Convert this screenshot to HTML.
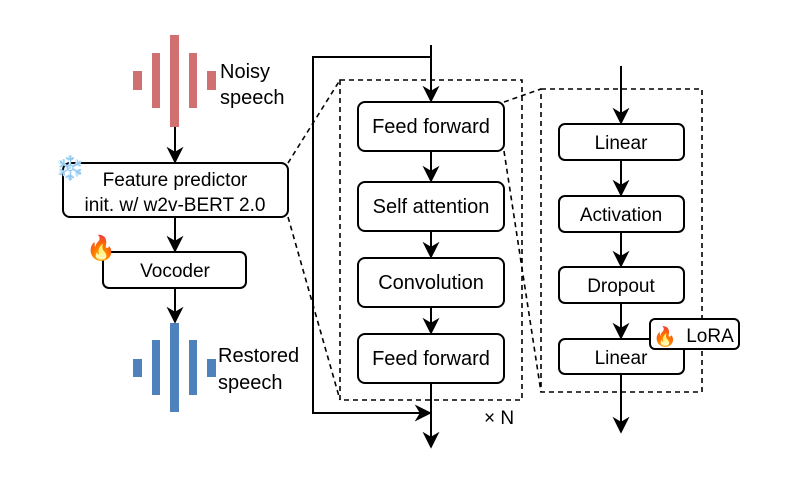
<!DOCTYPE html>
<html><head><meta charset="utf-8"><style>
body{margin:0;background:#fff}
svg text{font-family:"Liberation Sans",sans-serif;fill:#000}
</style></head><body>
<svg width="797" height="493" viewBox="0 0 797 493" xmlns="http://www.w3.org/2000/svg">
<defs><marker id="b" viewBox="0 0 10 10" refX="9" refY="5" markerWidth="17" markerHeight="17" orient="auto" markerUnits="userSpaceOnUse"><path d="M0,0 L10,5 L0,10 L3,5 z" fill="#000"/></marker></defs>
<g fill="#d07070">
<rect x="133" y="71" width="9" height="19"/><rect x="152" y="53" width="8" height="55"/><rect x="170" y="35" width="9" height="92"/><rect x="189" y="53" width="8" height="55"/><rect x="207" y="71" width="9" height="19"/></g>
<g fill="#4f81bd">
<rect x="133" y="359" width="9" height="18"/><rect x="152" y="340" width="8" height="55"/><rect x="170" y="323" width="9" height="89"/><rect x="189" y="340" width="8" height="55"/><rect x="207" y="359" width="9" height="18"/></g>
<g font-size="20"><text x="220" y="78">Noisy</text><text x="220" y="104">speech</text>
<text x="218" y="362">Restored</text><text x="218" y="389">speech</text></g>
<g stroke="#000" stroke-width="2" fill="none" marker-end="url(#b)">
<line x1="175" y1="127" x2="175" y2="162"/><line x1="175" y1="217" x2="175" y2="251"/><line x1="175" y1="288" x2="175" y2="322"/>
<line x1="431" y1="45" x2="431" y2="101"/><line x1="431" y1="151" x2="431" y2="181"/><line x1="431" y1="231" x2="431" y2="257"/><line x1="431" y1="307" x2="431" y2="333"/><line x1="431" y1="383" x2="431" y2="447"/>
<polyline points="431,57 313,57 313,413 430,413"/>
<line x1="621" y1="66" x2="621" y2="123"/><line x1="621" y1="160" x2="621" y2="195"/><line x1="621" y1="232" x2="621" y2="266"/><line x1="621" y1="303" x2="621" y2="338"/><line x1="621" y1="374" x2="621" y2="432"/>
</g>
<g stroke="#000" stroke-width="1.6" fill="none" stroke-dasharray="5,4">
<rect x="340" y="80" width="182" height="320"/><rect x="541" y="89" width="161" height="303"/>
<line x1="288" y1="163" x2="340" y2="80"/><line x1="288" y1="217" x2="340" y2="400"/>
<line x1="504" y1="102" x2="541" y2="89"/><line x1="504" y1="151" x2="541" y2="392"/>
</g>
<g stroke="#000" stroke-width="2" fill="#fff">
<rect x="63" y="163" width="225" height="54" rx="7"/><rect x="103" y="252" width="143" height="36" rx="6"/>
<rect x="358" y="102" width="146" height="49" rx="7"/><rect x="358" y="182" width="146" height="49" rx="7"/><rect x="358" y="258" width="146" height="49" rx="7"/><rect x="358" y="334" width="146" height="49" rx="7"/>
<rect x="559" y="124" width="125" height="36" rx="6"/><rect x="559" y="196" width="125" height="36" rx="6"/><rect x="559" y="267" width="125" height="36" rx="6"/><rect x="559" y="339" width="125" height="35" rx="6"/>
<rect x="650" y="319" width="89" height="30" rx="5"/>
</g>
<g font-size="19" text-anchor="middle">
<text x="175" y="186">Feature predictor</text><text x="175" y="211">init. w/ w2v-BERT 2.0</text>
<text x="175" y="277">Vocoder</text>
<text x="431" y="133" font-size="20">Feed forward</text><text x="431" y="213" font-size="20">Self attention</text><text x="431" y="289" font-size="20">Convolution</text><text x="431" y="365" font-size="20">Feed forward</text>
<text x="621" y="149">Linear</text><text x="621" y="221">Activation</text><text x="621" y="292">Dropout</text><text x="621" y="364">Linear</text>
<text x="710" y="342">LoRA</text>
</g>
<text x="484" y="424" font-size="19">× N</text>
<text x="55" y="176" font-size="24">❄️</text>
<text x="86" y="256" font-size="24">🔥</text>
<text x="653" y="343" font-size="19">🔥</text>
</svg>
</body></html>
